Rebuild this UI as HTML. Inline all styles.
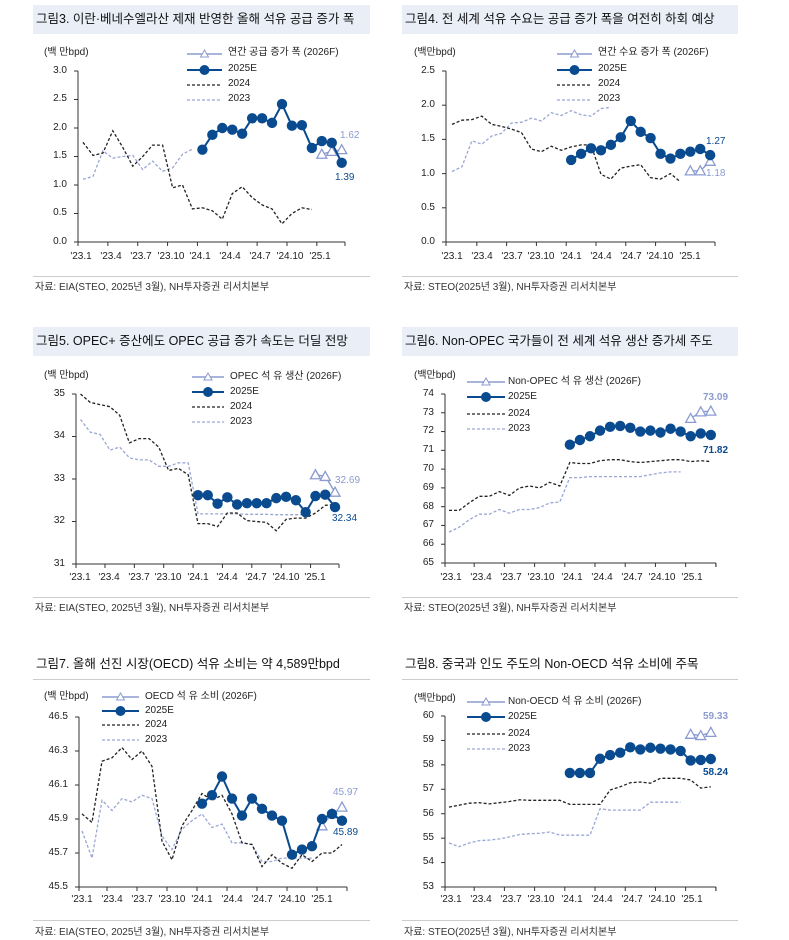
<!DOCTYPE html>
<html><head><meta charset="utf-8">
<style>
body{margin:0;background:#fff;width:789px;height:940px;position:relative;overflow:hidden;font-family:"Liberation Sans","Noto Sans CJK KR",sans-serif;color:#222}
.t{position:absolute;white-space:nowrap;line-height:1}
.tb{position:absolute;background:#e9eef7;height:29px}
.ti{font-size:12.5px;color:#111}
.yl{font-size:10px;text-align:right;width:30px}
.xl{font-size:10px;transform:translateX(-50%)}
.lg{font-size:10px}
.src{font-size:10px;color:#333}
.sep{position:absolute;height:1px;background:#ccc}
svg{position:absolute;left:0;top:0}
</style></head><body>
<div class="tb" style="left:33px;top:5px;width:337px"></div>
<div class="tb" style="left:402px;top:5px;width:336px"></div>
<div class="tb" style="left:33px;top:327px;width:337px"></div>
<div class="tb" style="left:402px;top:327px;width:336px"></div>
<div class="sep" style="left:33px;top:679px;width:337px"></div>
<div class="sep" style="left:402px;top:679px;width:336px"></div>
<div class="sep" style="left:33px;top:276px;width:337px"></div>
<div class="sep" style="left:402px;top:276px;width:336px"></div>
<div class="sep" style="left:33px;top:597px;width:337px"></div>
<div class="sep" style="left:402px;top:597px;width:336px"></div>
<div class="sep" style="left:33px;top:920px;width:337px"></div>
<div class="sep" style="left:402px;top:920px;width:336px"></div>

<div class="t ti" style="left:36px;top:13px">그림3. 이란·베네수엘라산 제재 반영한 올해 석유 공급 증가 폭</div>
<div class="t ti" style="left:405px;top:13px">그림4. 전 세계 석유 수요는 공급 증가 폭을 여전히 하회 예상</div>
<div class="t ti" style="left:36px;top:335px">그림5. OPEC+ 증산에도 OPEC 공급 증가 속도는 더딜 전망</div>
<div class="t ti" style="left:405px;top:335px">그림6. Non-OPEC 국가들이 전 세계 석유 생산 증가세 주도</div>
<div class="t ti" style="left:36px;top:658px">그림7. 올해 선진 시장(OECD) 석유 소비는 약 4,589만bpd</div>
<div class="t ti" style="left:405px;top:658px">그림8. 중국과 인도 주도의 Non-OECD 석유 소비에 주목</div>

<div class="t src" style="left:35px;top:283px">자료: EIA(STEO, 2025년 3월), NH투자증권 리서치본부</div>
<div class="t src" style="left:404px;top:283px">자료: STEO(2025년 3월), NH투자증권 리서치본부</div>
<div class="t src" style="left:35px;top:604px">자료: EIA(STEO, 2025년 3월), NH투자증권 리서치본부</div>
<div class="t src" style="left:404px;top:604px">자료: STEO(2025년 3월), NH투자증권 리서치본부</div>
<div class="t src" style="left:35px;top:928px">자료: EIA(STEO, 2025년 3월), NH투자증권 리서치본부</div>
<div class="t src" style="left:404px;top:928px">자료: STEO(2025년 3월), NH투자증권 리서치본부</div>

<div class="t lg" style="left:44px;top:48px">(백 만bpd)</div>
<div class="t lg" style="left:414px;top:48px">(백만bpd)</div>
<div class="t lg" style="left:44px;top:371px">(백 만bpd)</div>
<div class="t lg" style="left:414px;top:371px">(백만bpd)</div>
<div class="t lg" style="left:44px;top:692px">(백 만bpd)</div>
<div class="t lg" style="left:414px;top:694px">(백만bpd)</div>

<div class="t lg" style="left:228px;top:48px">연간 공급 증가 폭 (2026F)</div>
<div class="t lg" style="left:228px;top:64px">2025E</div>
<div class="t lg" style="left:228px;top:79px">2024</div>
<div class="t lg" style="left:228px;top:94px">2023</div>
<div class="t lg" style="left:598px;top:48px">연간 수요 증가 폭 (2026F)</div>
<div class="t lg" style="left:598px;top:64px">2025E</div>
<div class="t lg" style="left:598px;top:79px">2024</div>
<div class="t lg" style="left:598px;top:94px">2023</div>
<div class="t lg" style="left:230px;top:372px">OPEC 석 유 생산 (2026F)</div>
<div class="t lg" style="left:230px;top:387px">2025E</div>
<div class="t lg" style="left:230px;top:402px">2024</div>
<div class="t lg" style="left:230px;top:417px">2023</div>
<div class="t lg" style="left:508px;top:377px">Non-OPEC 석 유 생산 (2026F)</div>
<div class="t lg" style="left:508px;top:392px">2025E</div>
<div class="t lg" style="left:508px;top:409px">2024</div>
<div class="t lg" style="left:508px;top:424px">2023</div>
<div class="t lg" style="left:145px;top:692px">OECD 석 유 소비 (2026F)</div>
<div class="t lg" style="left:145px;top:706px">2025E</div>
<div class="t lg" style="left:145px;top:720px">2024</div>
<div class="t lg" style="left:145px;top:735px">2023</div>
<div class="t lg" style="left:508px;top:697px">Non-OECD 석 유 소비 (2026F)</div>
<div class="t lg" style="left:508px;top:712px">2025E</div>
<div class="t lg" style="left:508px;top:729px">2024</div>
<div class="t lg" style="left:508px;top:744px">2023</div>

<div class="t lg" style="left:340px;top:131px;color:#8b9bd0">1.62</div>
<div class="t lg" style="left:335px;top:173px;color:#0a4a8f">1.39</div>
<div class="t lg" style="left:706px;top:137px;color:#0a4a8f">1.27</div>
<div class="t lg" style="left:706px;top:169px;color:#8b9bd0">1.18</div>
<div class="t lg" style="left:335px;top:476px;color:#8b9bd0">32.69</div>
<div class="t lg" style="left:332px;top:514px;color:#0a4a8f">32.34</div>
<div class="t lg" style="left:703px;top:393px;color:#8b9bd0;font-weight:bold">73.09</div>
<div class="t lg" style="left:703px;top:446px;color:#0a4a8f;font-weight:bold">71.82</div>
<div class="t lg" style="left:333px;top:788px;color:#8b9bd0">45.97</div>
<div class="t lg" style="left:333px;top:828px;color:#0a4a8f">45.89</div>
<div class="t lg" style="left:703px;top:712px;color:#8b9bd0;font-weight:bold">59.33</div>
<div class="t lg" style="left:703px;top:768px;color:#0a4a8f;font-weight:bold">58.24</div>

<div class="t yl" style="left:37px;top:66px">3.0</div>
<div class="t yl" style="left:37px;top:94px">2.5</div>
<div class="t yl" style="left:37px;top:123px">2.0</div>
<div class="t yl" style="left:37px;top:151px">1.5</div>
<div class="t yl" style="left:37px;top:180px">1.0</div>
<div class="t yl" style="left:37px;top:208px">0.5</div>
<div class="t yl" style="left:37px;top:237px">0.0</div>
<div class="t yl" style="left:405px;top:66px">2.5</div>
<div class="t yl" style="left:405px;top:100px">2.0</div>
<div class="t yl" style="left:405px;top:134px">1.5</div>
<div class="t yl" style="left:405px;top:169px">1.0</div>
<div class="t yl" style="left:405px;top:203px">0.5</div>
<div class="t yl" style="left:405px;top:237px">0.0</div>
<div class="t yl" style="left:35px;top:389px">35</div>
<div class="t yl" style="left:35px;top:431px">34</div>
<div class="t yl" style="left:35px;top:474px">33</div>
<div class="t yl" style="left:35px;top:516px">32</div>
<div class="t yl" style="left:35px;top:559px">31</div>
<div class="t yl" style="left:404px;top:389px">74</div>
<div class="t yl" style="left:404px;top:408px">73</div>
<div class="t yl" style="left:404px;top:426px">72</div>
<div class="t yl" style="left:404px;top:445px">71</div>
<div class="t yl" style="left:404px;top:464px">70</div>
<div class="t yl" style="left:404px;top:483px">69</div>
<div class="t yl" style="left:404px;top:502px">68</div>
<div class="t yl" style="left:404px;top:520px">67</div>
<div class="t yl" style="left:404px;top:539px">66</div>
<div class="t yl" style="left:404px;top:558px">65</div>
<div class="t yl" style="left:38px;top:712px">46.5</div>
<div class="t yl" style="left:38px;top:746px">46.3</div>
<div class="t yl" style="left:38px;top:780px">46.1</div>
<div class="t yl" style="left:38px;top:814px">45.9</div>
<div class="t yl" style="left:38px;top:848px">45.7</div>
<div class="t yl" style="left:38px;top:882px">45.5</div>
<div class="t yl" style="left:404px;top:711px">60</div>
<div class="t yl" style="left:404px;top:735px">59</div>
<div class="t yl" style="left:404px;top:760px">58</div>
<div class="t yl" style="left:404px;top:784px">57</div>
<div class="t yl" style="left:404px;top:809px">56</div>
<div class="t yl" style="left:404px;top:833px">55</div>
<div class="t yl" style="left:404px;top:857px">54</div>
<div class="t yl" style="left:404px;top:882px">53</div>

<div class="t xl" style="left:81px;top:252px">'23.1</div><div class="t xl" style="left:111px;top:252px">'23.4</div><div class="t xl" style="left:141px;top:252px">'23.7</div><div class="t xl" style="left:171px;top:252px">'23.10</div><div class="t xl" style="left:200px;top:252px">'24.1</div><div class="t xl" style="left:230px;top:252px">'24.4</div><div class="t xl" style="left:260px;top:252px">'24.7</div><div class="t xl" style="left:290px;top:252px">'24.10</div><div class="t xl" style="left:320px;top:252px">'25.1</div>
<div class="t xl" style="left:452px;top:252px">'23.1</div><div class="t xl" style="left:482px;top:252px">'23.4</div><div class="t xl" style="left:512px;top:252px">'23.7</div><div class="t xl" style="left:541px;top:252px">'23.10</div><div class="t xl" style="left:571px;top:252px">'24.1</div><div class="t xl" style="left:601px;top:252px">'24.4</div><div class="t xl" style="left:631px;top:252px">'24.7</div><div class="t xl" style="left:660px;top:252px">'24.10</div><div class="t xl" style="left:690px;top:252px">'25.1</div>
<div class="t xl" style="left:80px;top:573px">'23.1</div><div class="t xl" style="left:109px;top:573px">'23.4</div><div class="t xl" style="left:139px;top:573px">'23.7</div><div class="t xl" style="left:168px;top:573px">'23.10</div><div class="t xl" style="left:198px;top:573px">'24.1</div><div class="t xl" style="left:227px;top:573px">'24.4</div><div class="t xl" style="left:256px;top:573px">'24.7</div><div class="t xl" style="left:286px;top:573px">'24.10</div><div class="t xl" style="left:315px;top:573px">'25.1</div>
<div class="t xl" style="left:451px;top:573px">'23.1</div><div class="t xl" style="left:481px;top:573px">'23.4</div><div class="t xl" style="left:511px;top:573px">'23.7</div><div class="t xl" style="left:541px;top:573px">'23.10</div><div class="t xl" style="left:572px;top:573px">'24.1</div><div class="t xl" style="left:602px;top:573px">'24.4</div><div class="t xl" style="left:632px;top:573px">'24.7</div><div class="t xl" style="left:662px;top:573px">'24.10</div><div class="t xl" style="left:692px;top:573px">'25.1</div>
<div class="t xl" style="left:82px;top:895px">'23.1</div><div class="t xl" style="left:112px;top:895px">'23.4</div><div class="t xl" style="left:142px;top:895px">'23.7</div><div class="t xl" style="left:172px;top:895px">'23.10</div><div class="t xl" style="left:202px;top:895px">'24.1</div><div class="t xl" style="left:232px;top:895px">'24.4</div><div class="t xl" style="left:262px;top:895px">'24.7</div><div class="t xl" style="left:292px;top:895px">'24.10</div><div class="t xl" style="left:322px;top:895px">'25.1</div>
<div class="t xl" style="left:451px;top:895px">'23.1</div><div class="t xl" style="left:481px;top:895px">'23.4</div><div class="t xl" style="left:511px;top:895px">'23.7</div><div class="t xl" style="left:541px;top:895px">'23.10</div><div class="t xl" style="left:572px;top:895px">'24.1</div><div class="t xl" style="left:602px;top:895px">'24.4</div><div class="t xl" style="left:632px;top:895px">'24.7</div><div class="t xl" style="left:662px;top:895px">'24.10</div><div class="t xl" style="left:692px;top:895px">'25.1</div>

<svg id="s" width="789" height="940"></svg>
<script>
var NS="http://www.w3.org/2000/svg",S=document.getElementById('s');
function el(n,a){var e=document.createElementNS(NS,n);for(var k in a)e.setAttribute(k,a[k]);S.appendChild(e);return e;}
var DB="#0a4a8f",LB="#8b9bd0",LD="#99a7d4";
function chart(c){
 var Y=function(v){return c.yb-(v-c.min)/(c.max-c.min)*(c.yb-c.yt);};
 var X=function(i){return c.x0+i*c.dx;};
 el('line',{x1:c.ax,y1:c.yt,x2:c.ax,y2:c.yb,stroke:'#333','stroke-width':1});
 el('line',{x1:c.ax,y1:c.yb,x2:c.end,y2:c.yb,stroke:'#333','stroke-width':1});
 for(var v=c.min;v<=c.max+1e-9;v+=c.step){el('line',{x1:c.ax-4,y1:Y(v),x2:c.ax,y2:Y(v),stroke:'#333'});}
 for(var k=0;k<=27;k+=3){var tx=c.x0-c.dx/2+k*c.dx;if(k==0)tx=c.ax;if(tx<=c.end)el('line',{x1:tx,y1:c.yb,x2:tx,y2:c.yb+4,stroke:'#333'});}
 el('line',{x1:c.end,y1:c.yb,x2:c.end,y2:c.yb+4,stroke:'#333'});
 function pl(d,s,col,w,dash){var p=d.map(function(v,i){return X(i+s).toFixed(1)+','+Y(v).toFixed(1)}).join(' ');el('polyline',{points:p,fill:'none',stroke:col,'stroke-width':w,'stroke-dasharray':dash||'none'});}
 pl(c.d23,0,LD,1.3,'3,2');
 pl(c.d24,0,'#222',1.3,'3,2');
 pl(c.f26,24,LB,1.4);
 c.f26.forEach(function(v,i){var x=X(24+i),y=Y(v);el('polygon',{points:(x)+','+(y-5)+' '+(x-5)+','+(y+4)+' '+(x+5)+','+(y+4),fill:'#fff',stroke:LB,'stroke-width':1.3});});
 pl(c.e25,12,DB,2);
 c.e25.forEach(function(v,i){el('circle',{cx:X(12+i),cy:Y(v),r:c.r||5.2,fill:DB});});
 var L=c.lg;
 el('line',{x1:L.x1,y1:L.y[0],x2:L.x2,y2:L.y[0],stroke:LB,'stroke-width':1.4});
 var mx=(L.x1+L.x2)/2;el('polygon',{points:mx+','+(L.y[0]-4)+' '+(mx-4)+','+(L.y[0]+3)+' '+(mx+4)+','+(L.y[0]+3),fill:'#fff',stroke:LB});
 el('line',{x1:L.x1,y1:L.y[1],x2:L.x2,y2:L.y[1],stroke:DB,'stroke-width':2});
 el('circle',{cx:mx,cy:L.y[1],r:5,fill:DB});
 el('line',{x1:L.x1,y1:L.y[2],x2:L.x2,y2:L.y[2],stroke:'#222','stroke-width':1.3,'stroke-dasharray':'3,2'});
 el('line',{x1:L.x1,y1:L.y[3],x2:L.x2,y2:L.y[3],stroke:LD,'stroke-width':1.3,'stroke-dasharray':'3,2'});
}
chart({ax:78,yt:71,yb:242,min:0,max:3,step:.5,x0:83,dx:9.95,end:345,
 e25:[1.62,1.88,2.0,1.97,1.9,2.17,2.17,2.09,2.42,2.04,2.05,1.65,1.77,1.74,1.39],
 f26:[1.54,1.59,1.62],
 d24:[1.75,1.52,1.56,1.95,1.66,1.33,1.5,1.7,1.7,0.95,1.0,0.58,0.6,0.55,0.4,0.85,0.97,0.78,0.65,0.58,0.32,0.5,0.6,0.57],
 d23:[1.1,1.15,1.6,1.47,1.5,1.52,1.27,1.42,1.24,1.3,1.54,1.63],
 lg:{x1:187,x2:222,y:[54,70,85,100]}});
chart({ax:446,yt:71,yb:242,min:0,max:2.5,step:.5,x0:452,dx:9.93,end:715,
 e25:[1.2,1.29,1.37,1.34,1.42,1.53,1.77,1.61,1.52,1.29,1.22,1.29,1.32,1.36,1.27],
 f26:[1.04,1.04,1.18],
 d24:[1.72,1.78,1.79,1.84,1.72,1.69,1.65,1.6,1.36,1.32,1.4,1.34,1.39,1.42,1.42,0.99,0.92,1.08,1.11,1.13,0.94,0.92,1.0,0.88],
 d23:[1.03,1.1,1.48,1.43,1.55,1.59,1.74,1.75,1.81,1.77,1.89,1.85,1.92,1.86,1.84,1.95,1.97],
 lg:{x1:557,x2:592,y:[54,70,85,100]}});
chart({ax:76,yt:394,yb:564,min:31,max:35,step:1,x0:80.5,dx:9.79,end:339,
 e25:[32.62,32.62,32.42,32.57,32.4,32.43,32.43,32.43,32.55,32.58,32.5,32.22,32.6,32.63,32.34],
 f26:[33.1,33.06,32.69],
 d24:[35.0,34.8,34.75,34.7,34.5,33.85,33.95,33.95,33.75,33.2,33.25,33.1,31.95,31.95,31.88,32.2,32.2,32.02,32.0,31.98,31.78,32.05,32.08,32.08,32.2,32.38,32.4],
 d23:[34.4,34.1,34.05,33.68,33.75,33.5,33.45,33.45,33.3,33.3,33.38,33.38,32.18,32.18,32.18,32.18,32.18,32.17,32.17,32.17,32.16,32.16,32.16,32.16],
 lg:{x1:192,x2:224,y:[377,392,407,422]}});
chart({ax:445,yt:394,yb:563,min:65,max:74,step:1,x0:449,dx:10.07,end:716,
 e25:[71.3,71.55,71.75,72.05,72.25,72.3,72.2,72.0,72.05,71.95,72.15,72.0,71.75,71.9,71.82],
 f26:[72.7,73.05,73.09],
 d24:[67.8,67.8,68.2,68.55,68.55,68.8,68.6,69.0,69.1,69.0,69.3,69.1,70.35,70.3,70.3,70.45,70.5,70.5,70.4,70.35,70.4,70.45,70.5,70.5,70.4,70.45,70.4],
 d23:[66.65,66.9,67.3,67.6,67.6,67.85,67.65,67.85,67.85,67.95,68.2,68.25,69.55,69.55,69.6,69.6,69.6,69.6,69.6,69.6,69.7,69.8,69.85,69.85],
 lg:{x1:467,x2:505,y:[382,397,414,429]}});
chart({ax:79,yt:717,yb:887,min:45.5,max:46.5,step:.2,x0:82,dx:10,end:347,
 e25:[45.99,46.04,46.15,46.02,45.92,46.02,45.96,45.92,45.89,45.69,45.72,45.74,45.9,45.93,45.89],
 f26:[45.86,45.93,45.97],
 d24:[45.93,45.88,46.24,46.26,46.32,46.25,46.30,46.21,45.77,45.66,45.86,45.95,46.05,46.01,46.04,45.93,45.76,45.75,45.62,45.69,45.64,45.61,45.69,45.65,45.70,45.70,45.75],
 d23:[45.83,45.67,46.01,45.95,46.02,46.00,46.04,46.02,45.80,45.72,45.84,45.89,45.93,45.85,45.87,45.76,45.76,45.75,45.65,45.65,45.67,45.67,45.67,45.67],
 lg:{x1:102,x2:139,y:[697,711,725,740]}});
chart({ax:445,yt:716,yb:887,min:53,max:60,step:1,x0:449,dx:10.07,end:716,
 e25:[57.67,57.67,57.67,58.25,58.4,58.5,58.72,58.63,58.7,58.66,58.63,58.57,58.18,58.2,58.24],
 f26:[59.25,59.2,59.33],
 d24:[56.27,56.35,56.43,56.45,56.4,56.45,56.5,56.57,56.55,56.55,56.55,56.55,56.38,56.38,56.38,56.38,56.97,57.1,57.27,57.3,57.25,57.45,57.45,57.45,57.38,57.05,57.1],
 d23:[54.8,54.65,54.8,54.9,54.92,54.97,55.05,55.15,55.18,55.2,55.25,55.12,55.12,55.12,55.12,56.2,56.15,56.15,56.15,56.15,56.47,56.47,56.47,56.47],
 lg:{x1:467,x2:505,y:[702,717,734,749]}});
</script>
</body></html>
